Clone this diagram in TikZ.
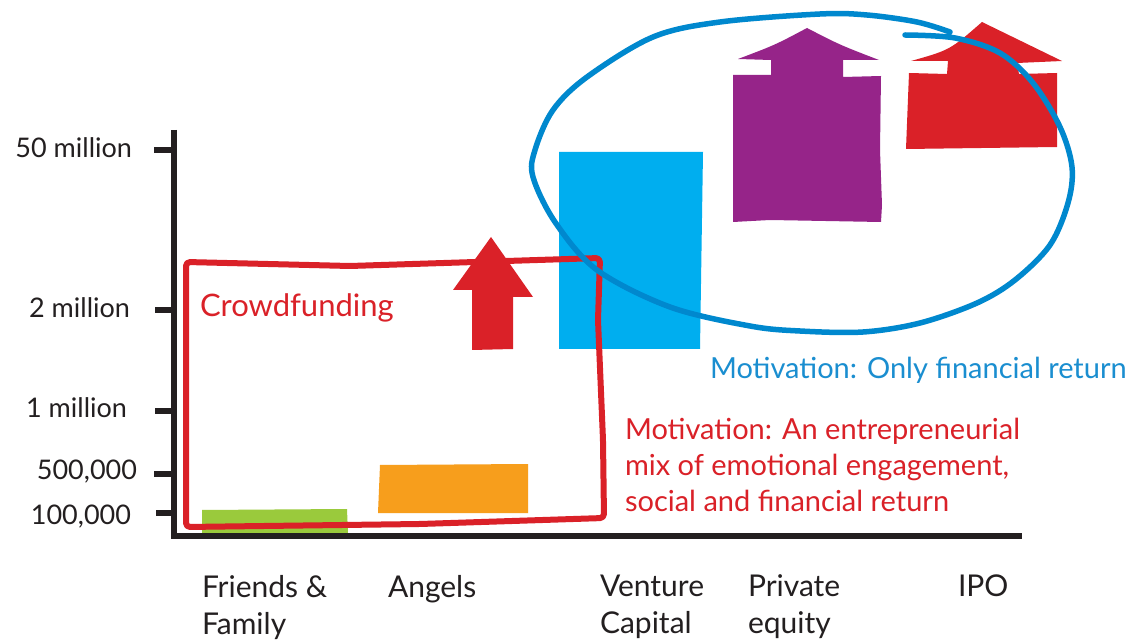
\documentclass[tikz,border=0pt]{standalone}
\usepackage{fontspec}
\setmainfont{Lato}
\definecolor{cRed}{HTML}{DA2128}
\definecolor{cOrange}{HTML}{F79E1C}
\definecolor{cGreen}{HTML}{9ACA3C}
\definecolor{cCyan}{HTML}{00AEEF}
\definecolor{cPurple}{HTML}{962489}
\definecolor{cBlueLine}{HTML}{0088CE}
\definecolor{cBlueText}{HTML}{1A8ED0}
\definecolor{cAxis}{HTML}{231F20}
\begin{document}
\begin{tikzpicture}[x=1pt,y=-1pt,
  every node/.style={inner sep=0pt, outer sep=0pt},
  axisline/.style={draw=cAxis, line width=6pt},
  tickline/.style={draw=cAxis, line width=6.5pt},
  ylab/.style={anchor=east, text=cAxis, font=\fontsize{27}{30}\selectfont},
  xlab/.style={anchor=north west, align=left, text=cAxis, font=\fontsize{30}{37}\selectfont},
  redbox/.style={draw=cRed, line width=6pt, line join=round, rounded corners=4pt},
  loopline/.style={draw=cBlueLine, line width=5.5pt, line cap=round},
  redtxt/.style={text=cRed, font=\fontsize{29}{36}\selectfont},
  bluetxt/.style={text=cBlueText, font=\fontsize{29}{32}\selectfont}
]
\useasboundingbox (0,0) rectangle (1128,644);
\fill[white] (0,0) rectangle (1128,644);

% bars
\fill[cGreen] (202,510) -- (347,509) -- (348,534) -- (202,534) -- cycle;
\fill[cOrange] (380,465) -- (528,464) -- (528,513) -- (378,513) -- cycle;
\fill[cCyan] (559,152) -- (703,152) -- (700,349) -- (559,349) -- cycle;

% arrows
\fill[cRed] (472,350) -- (472,290) -- (453,290) -- (491,237) -- (533,297) -- (513,297) -- (513,349) -- cycle;
\fill[cPurple] (733,222) -- (733,75) -- (771,75) -- (771,60) -- (738,59)
  .. controls (775,45) .. (807,28) .. controls (840,45) .. (879,60)
  -- (843,60) -- (843,77) -- (881,76) -- (880,150) -- (882,205) -- (881,222) -- (770,220) -- cycle;
\fill[cRed] (906,149) -- (909,73) -- (947,74) -- (948,61) -- (911,61)
  .. controls (950,50) .. (982,22) -- (1062,61) -- (1017,63) -- (1019,74) -- (1057,73) -- (1057,147) -- cycle;

% crowdfunding box
\draw[redbox] (186,262) -- (350,266) -- (600,258) -- (598,320) -- (603,440) -- (604,518) -- (420,524) -- (186,527) -- cycle;

% blue loop
\draw[loopline] plot[smooth, tension=0.55] coordinates {(905,35) (955,38) (1000,53) (1033,83) (1060,127) (1072,167) (1068,203) (1050,245) (1015,280) (977,303) (920,323) (863,332) (800,331) (750,326) (670,307) (597,270) (555,222) (533,177) (535,150) (553,110) (587,77) (653,37) (720,22) (820,14) (867,15) (917,22) (950,32)};

% axes
\draw[axisline] (174,130) -- (174,536) -- (1022,536);
\draw[tickline] (154,150) -- (174,150);
\draw[tickline] (155,310) -- (174,310);
\draw[tickline] (155,411) -- (174,411);
\draw[tickline] (154,474) -- (174,474);
\draw[tickline] (156,513) -- (174,513);

% axis labels
\node[ylab] (l50) at (132,148) {50 million};
\node[ylab] (l2) at (130,308) {2 million};
\node[ylab] (l1) at (127,408) {1 million};
\node[ylab] (l500) at (137,472) {500,000};
\node[ylab] (l100) at (131,517) {100,000};

\node[xlab] (xff) at (202,575) {Friends \&\\Family};
\node[xlab] (xan) at (388,575) {Angels};
\node[xlab] (xvc) at (600,575) {Venture\\Capital};
\node[xlab] (xpe) at (748,575) {Private\\equity};
\node[xlab] (xipo) at (958,575) {IPO};

% annotations
\node[anchor=west, text=cRed, font=\fontsize{31}{34}\selectfont] (crowd) at (200,308) {Crowdfunding};
\node[bluetxt, anchor=west] (motb) at (710,370) {Motivation: Only financial return};
\node[redtxt, anchor=north west, align=left] (motr) at (625,418) {Motivation: An entrepreneurial\\mix of emotional engagement,\\social and financial return};
\end{tikzpicture}
\end{document}
